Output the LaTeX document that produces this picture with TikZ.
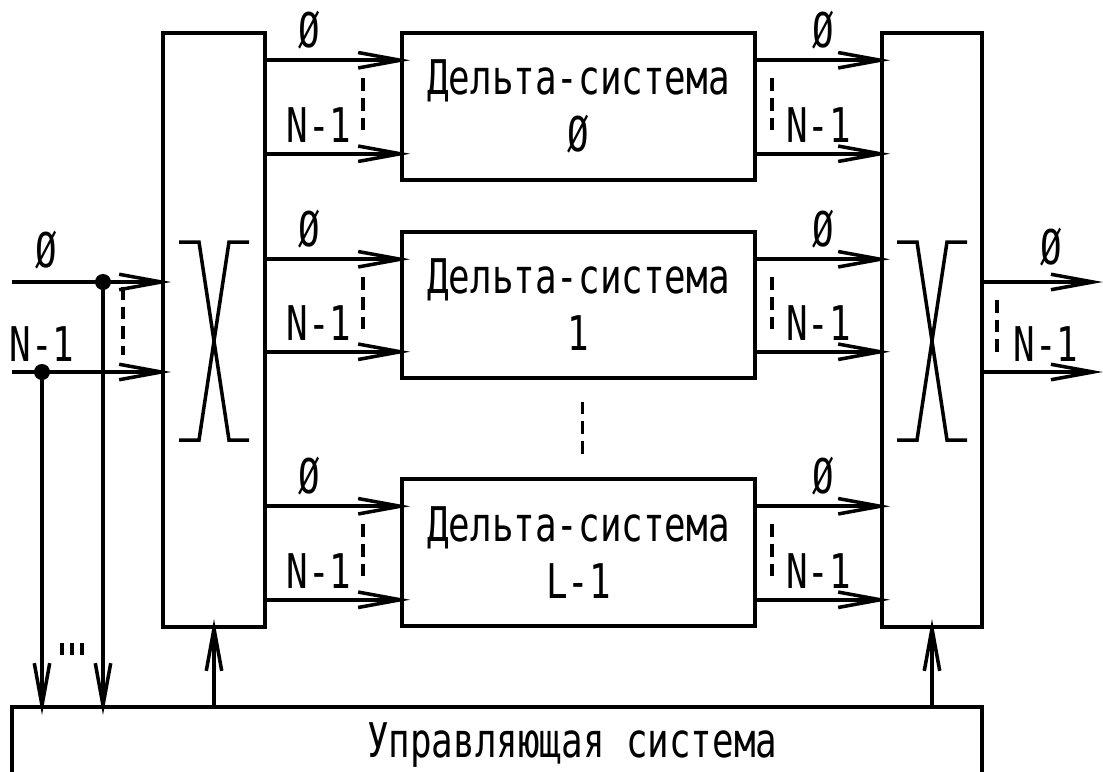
\documentclass[tikz,border=0pt]{standalone}
\usepackage{fontspec}
\setmainfont{DejaVu Sans Mono}[FakeStretch=0.75]
\usepackage{tikz}
\usetikzlibrary{arrows.meta, calc}

\newcommand{\pxl}{0.025cm}

\begin{document}
\begin{tikzpicture}[x=\pxl, y=-\pxl, line width=2.5pt,
  every node/.style={font=\fontsize{34}{40.5}\selectfont, inner sep=0pt},
  blk/.style 2 args={draw, minimum width=#1*\pxl, minimum height=#2*\pxl},
  arr/.style={-{Straight Barb[length=30pt, width=11pt]}, shorten >=-7pt},
  dotline/.style={dash pattern=on 9pt off 5pt},
  lbl/.style={above=7pt}]
  \useasboundingbox (0,0) rectangle (1103,771);
  \clip (0,0) rectangle (1103,771);

  % Common cross macro
  \def\drawcross{
    \draw (-35,-99) -- (-15,-99) -- (15,99) -- (35,99);
    \draw (-35,99) -- (-15,99) -- (15,-99) -- (35,-99);
  }

  % Blocks
  \node[blk={102}{594}] (swL) at (214,330) {};
  \node[blk={100}{594}] (swR) at (932,330) {};
  \node[blk={353}{147}, align=center] (d0) at (578.5,106.5) {Дельта-система\\Ø};
  \node[blk={353}{146}, align=center] (d1) at (578.5,305) {Дельта-система\\1};
  \node[blk={353}{147}, align=center] (d2) at (578.5,552.5) {Дельта-система\\L-1};
  \node[blk={970}{77}, label={[xshift=1.88cm]center:Управляющая система}] (ctrl) at (497,745.5) {};

  \begin{scope}[shift={($(swL.center)+(0,11)$)}]
    \drawcross
  \end{scope}
  \begin{scope}[shift={($(swR.center)+(0,11)$)}]
    \drawcross
  \end{scope}

  % Delta systems in and out
  \foreach \i in {0,1,2} {
    \coordinate (d\i-a) at ($(d\i.north west)+(0,29)$);
    \coordinate (d\i-b) at ($(d\i.south west)+(0,-28)$);
    \coordinate (d\i-c) at ($(d\i.north east)+(0,29)$);
    \coordinate (d\i-d) at ($(d\i.south east)+(0,-28)$);
    \draw[arr] (swL.east |- d\i-a) -- node[pos=.32, lbl] {Ø} (d\i-a);
    \draw[arr] (swL.east |- d\i-b) -- node[pos=.39, lbl] {N-1} (d\i-b);
    \draw[dotline] ($(d\i-a)+(-37,18)$) -- ($(d\i-b)+(-37,-18)$);
    \draw[arr] (d\i-c) -- node[pos=.54, lbl] {Ø} (swR.west |- d\i-c);
    \draw[arr] (d\i-d) -- node[pos=.5, lbl] {N-1} (swR.west |- d\i-d);
    \draw[dotline] ($(d\i-c)+(15,18)$) -- ($(d\i-d)+(15,-18)$);
  }
  \draw[dotline] ($(d1.south)+(4,22)$) -- ($(d2.north)+(4,-22)$);

  % Inputs
  \coordinate (in0) at (12,282);
  \coordinate (in1) at (12,372);
  \coordinate (j0) at (103,282);
  \coordinate (j1) at (42,372);
  \draw[arr] (in0) -- node[pos=.23, above=8pt] {Ø} (swL.west |- in0);
  \draw[arr] (in1) -- node[pos=.2, above=6.5pt] {N-1} (swL.west |- in1);
  \fill (j0) circle[radius=8];
  \fill (j1) circle[radius=8];
  \draw[arr] (j0) -- (j0 |- ctrl.north);
  \draw[arr] (j1) -- (j1 |- ctrl.north);
  \draw[dotline] (123,287) -- (123,355);
  \foreach \x in {62,72,82}
    \draw (\x,643) -- (\x,655);

  % Outputs
  \coordinate (out0) at (1093,282);
  \coordinate (out1) at (1093,372);
  \draw[arr] (swR.east |- out0) -- node[pos=.62, above=10pt] {Ø} (out0);
  \draw[arr] (swR.east |- out1) -- node[pos=.57, above=6.5pt] {N-1} (out1);
  \draw[dotline] (997,300) -- (997,355);

  % Control
  \draw[arr] (swL.south |- ctrl.north) -- (swL.south);
  \draw[arr] (swR.south |- ctrl.north) -- (swR.south);
\end{tikzpicture}
\end{document}
